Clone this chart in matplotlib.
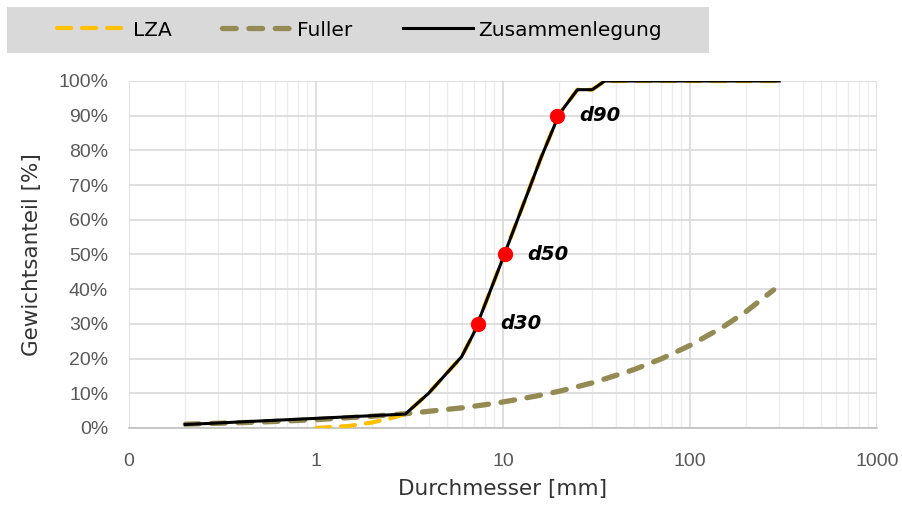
import matplotlib
matplotlib.use('Agg')
import matplotlib.pyplot as plt
from matplotlib.patches import Rectangle
from matplotlib.ticker import FixedLocator, FixedFormatter, LogLocator, NullFormatter

plt.rcParams['font.family'] = ['DejaVu Sans']

# LZA grading curve (mm, %)
lza_d = [1, 1.5, 2, 2.5, 3, 4, 6, 7, 8, 10, 16, 20, 25, 30, 35, 300]
lza_p = [0, 0.6, 1.6, 2.8, 4.0, 10.0, 20.5, 27.5, 35.5, 49.0, 78.0, 90.5, 97.5, 97.5, 100, 100]

# Fuller curve
fuller_d = [0.2, 0.5, 1, 2, 3, 4, 6, 8, 10, 15, 20, 30, 50, 70, 100, 150, 200, 280]
fuller_p = [1.1, 1.7, 2.4, 3.4, 4.1, 4.8, 5.8, 6.7, 7.5, 9.2, 10.6, 13.0, 16.8, 19.9, 23.8, 29.1, 33.6, 39.8]

# combined curve
zus_d = [0.2, 3, 4, 6, 7, 8, 10, 16, 20, 25, 30, 35, 300]
zus_p = [1.0, 4.0, 10.0, 20.5, 27.5, 35.5, 49.0, 78.0, 90.5, 97.5, 97.5, 100, 100]

# characteristic diameters
marks_d = [7.35, 10.2, 19.4]
marks_p = [30, 50, 90]
marks_lbl = ['d30', 'd50', 'd90']

xticks = [0.1, 1, 10, 100, 1000]
xtick_labels = ['0', '1', '10', '100', '1000']

W, H = 903, 507
fig = plt.figure(figsize=(W / 100, H / 100), dpi=100)
ax = fig.add_axes([129 / W, (H - 428) / H, 748 / W, 347 / H])

ax.plot(lza_d, lza_p, color='#ffc000', lw=3.0, dashes=(3.4, 2.6), dash_capstyle='round',
        label='LZA', zorder=3)
ax.plot(fuller_d, fuller_p, color='#948a54', lw=3.8, dashes=(2.6, 2.4), dash_capstyle='round',
        label='Fuller', zorder=2)
ax.plot(zus_d, zus_p, color='black', lw=2.2, label='Zusammenlegung', zorder=4)
ax.plot(marks_d, marks_p, 'o', color='#ff0000', ms=10, zorder=5)
for d, p, t in zip(marks_d, marks_p, marks_lbl):
    ax.annotate(t, (d, p), xytext=(16, 0), textcoords='offset points', va='center',
                fontsize=14, fontweight='bold', fontstyle='italic', color='black')

ax.set_xscale('log')
ax.set_xlim(0.1, 1000)
ax.set_ylim(0, 100)
ax.xaxis.set_major_locator(FixedLocator(xticks))
ax.xaxis.set_major_formatter(FixedFormatter(xtick_labels))
ax.xaxis.set_minor_locator(LogLocator(base=10, subs=range(2, 10)))
ax.xaxis.set_minor_formatter(NullFormatter())
ax.set_yticks(range(0, 101, 10))
ax.set_yticklabels(['{}%'.format(v) for v in range(0, 101, 10)])

ax.grid(which='major', color='#d9d9d9', lw=1.2)
ax.grid(which='minor', axis='x', color='#ececec', lw=1.0)
ax.set_axisbelow(True)
for s in ['top', 'right', 'left']:
    ax.spines[s].set_visible(False)
ax.spines['bottom'].set_color('#bfbfbf')
ax.spines['bottom'].set_linewidth(1.2)
ax.tick_params(which='both', length=0, colors='#595959')
ax.tick_params(axis='y', pad=15)
ax.tick_params(axis='x', pad=18)
for lab in ax.get_xticklabels() + ax.get_yticklabels():
    lab.set_fontfamily('Liberation Sans')
    lab.set_fontsize(14)

ax.set_xlabel('Durchmesser [mm]', fontsize=15.5, color='#333333')
ax.xaxis.set_label_coords(0.5, -0.148)
ax.set_ylabel('Gewichtsanteil [%]', fontsize=15.5, color='#333333')
ax.yaxis.set_label_coords(-0.116, 0.5)

# legend band
fig.patches.append(Rectangle((7 / W, 1 - 53 / H), 702 / W, 46 / H, transform=fig.transFigure,
                             facecolor='#d9d9d9', edgecolor='none', zorder=0))
leg = fig.legend(loc='center left', bbox_to_anchor=(57 / W, 1 - 30 / H), ncol=3, fontsize=14.5,
                 frameon=False, handlelength=3.5, handletextpad=0.25, columnspacing=2.5,
                 borderpad=0, borderaxespad=0)

fig.savefig('out.png', dpi=100)
